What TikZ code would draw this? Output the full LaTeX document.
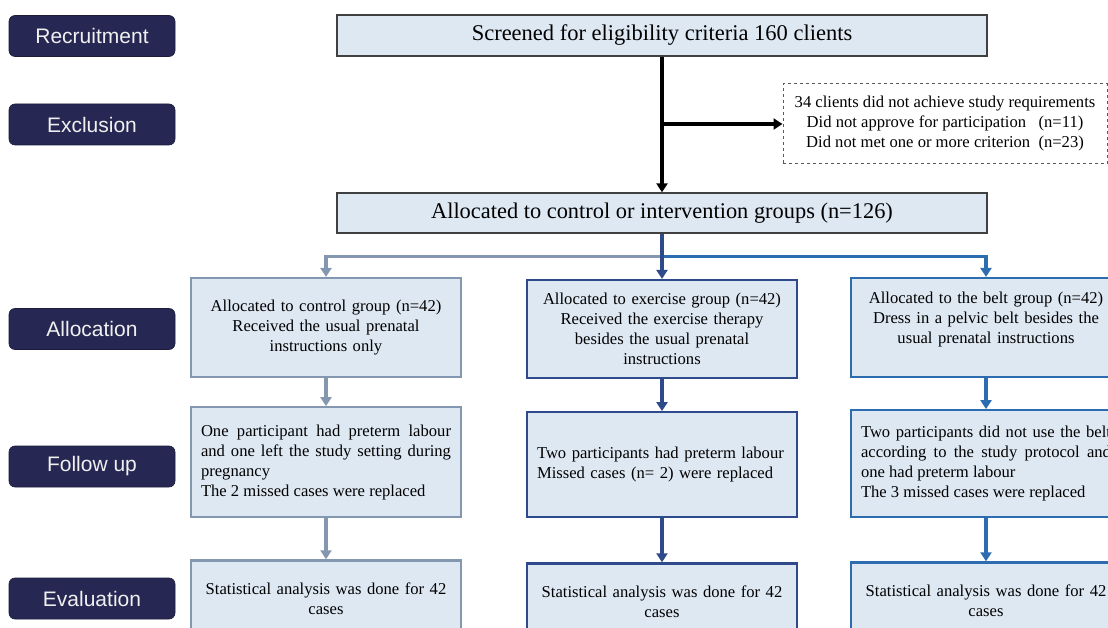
\documentclass[tikz,border=0pt]{standalone}
\usepackage{fontspec}
\setmainfont{Liberation Serif}
\newfontfamily\sideFont{Liberation Sans}
\usetikzlibrary{arrows.meta, positioning, calc}

\definecolor{boxfill}{RGB}{222,232,243}
\definecolor{navy}{RGB}{38,40,83}
\definecolor{ctrlc}{RGB}{132,151,176}
\definecolor{exerc}{RGB}{46,74,138}
\definecolor{beltc}{RGB}{46,108,178}
\definecolor{edgegray}{RGB}{64,64,64}

\tikzset{
  stage/.style = {draw=navy!70!black, fill=navy, line width=0.6pt, rounded corners=6pt,
    minimum width=166pt, minimum height=41pt, text=white!94!black,
    font=\sideFont\fontsize{21}{25}\selectfont},
  mainbox/.style = {draw=edgegray, fill=boxfill, line width=1.3pt, minimum width=650pt, minimum height=41pt},
  grpbox/.style = {draw=#1, fill=boxfill, line width=2.2pt, text width=250pt, inner xsep=10pt,
    align=center, font=\fontsize{16.6}{20}\selectfont},
  flow/.style = {->, line width=3.2pt},
}

\begin{document}
\begin{tikzpicture} [x=1pt, y=1pt, >={Triangle[width=11pt, length=9pt]}]
\useasboundingbox (0,0) rectangle (1108,-628);
\clip (0,0) rectangle (1108,-628);

% stage labels on the left
\node [stage] (recruit) at (92,-36) {Recruitment};
\node [stage] (exclude) at (92,-124.5) {Exclusion};
\node [stage] (allocate) at (92,-329) {Allocation};
\node [stage] (follow) at (92,-466.5) {Follow up};
\node [stage] (evaluate) at (92,-598.5) {Evaluation};

% screening and allocation
\node [mainbox, font=\fontsize{22.5}{26}\selectfont] (screen) at (662,-35.5) {Screened for eligibility criteria 160 clients};
\node [draw=gray!70!black, dashed, fill=white, line width=1pt, minimum width=324pt, minimum height=80pt,
  align=center, font=\fontsize{16.6}{20}\selectfont] (excl) at (945,-124)
  {34 clients did not achieve study requirements\\
   Did not approve for participation~~~(n=11)\\
   Did not met one or more criterion~~(n=23)};
\node [mainbox, minimum height=40pt, font=\fontsize{22.4}{26}\selectfont] (alloc) at (662,-213) {Allocated to control or intervention groups (n=126)};

\draw [flow] (screen) -- (alloc);
\draw [flow] (screen.south |- excl.west) -- (excl.west);

% groups
\node [grpbox=ctrlc, minimum height=99pt] (ctrl) at (326,-327.5)
  {Allocated to control group (n=42)\\ Received the usual prenatal\\ instructions only};
\node [grpbox=exerc, minimum height=98pt] (exer) at (662,-329)
  {Allocated to exercise group (n=42)\\ Received the exercise therapy\\ besides the usual prenatal\\ instructions};
\node [grpbox=beltc, minimum height=99pt] (belt) at (986,-327.5)
  {Allocated to the belt group (n=42)\\ Dress in a pelvic belt besides the\\ usual prenatal instructions\\ \mbox{}};

\coordinate (split) at ($(alloc.south)!0.5!(exer.north)$);
\draw [flow, ctrlc] (split) -| (ctrl);
\draw [flow, beltc] (split) -| (belt);
\draw [flow, exerc] (alloc) -- (exer);

% follow up
\node [grpbox=ctrlc, align=justify, minimum height=110pt, below=28pt of ctrl] (fctrl)
  {One participant had preterm labour\linebreak and one left the study setting during\linebreak pregnancy\\ The 2 missed cases were replaced};
\node [grpbox=exerc, align=left, minimum height=105pt, below=32pt of exer] (fexer)
  {Two participants had preterm labour\\ Missed cases (n= 2) were replaced};
\node [grpbox=beltc, align=justify, minimum height=107pt, below=31pt of belt] (fbelt)
  {Two participants did not use the belt\linebreak according to the study protocol and\linebreak one had preterm labour\\ The 3 missed cases were replaced};

\draw [flow, ctrlc] (ctrl) -- (fctrl);
\draw [flow, exerc] (exer) -- (fexer);
\draw [flow, beltc] (belt) -- (fbelt);

% evaluation
\node [grpbox=ctrlc, minimum height=76pt, below=41pt of fctrl] (ectrl) {Statistical analysis was done for 42\\ cases};
\node [grpbox=exerc, minimum height=76pt, below=44pt of fexer] (eexer) {Statistical analysis was done for 42\\ cases};
\node [grpbox=beltc, minimum height=76pt, below=43pt of fbelt] (ebelt) {Statistical analysis was done for 42\\ cases};

\draw [flow, ctrlc] (fctrl) -- (ectrl);
\draw [flow, exerc] (fexer) -- (eexer);
\draw [flow, beltc] (fbelt) -- (ebelt);

\end{tikzpicture}
\end{document}
